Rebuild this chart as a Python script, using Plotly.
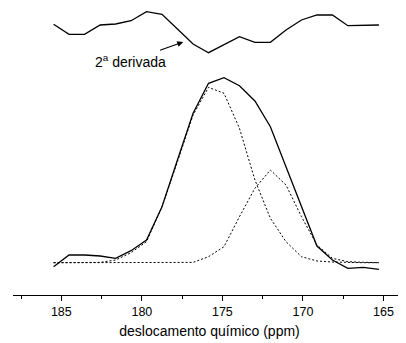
import plotly.graph_objects as go

# chemical shift (ppm) of the sampled points
ppm = [185.48, 184.52, 183.56, 182.59, 181.63, 180.67, 179.71, 178.75, 177.79, 176.82, 175.86,
       174.90, 173.94, 172.98, 172.02, 171.05, 170.09, 169.13, 168.17, 167.21, 166.25, 165.28]

# experimental spectrum (arbitrary intensity units)
spectrum = [-4, 7.7, 7.7, 6.7, 4.4, 12, 22.7, 56, 102.7, 149.4, 179.4,
            185, 177, 161.7, 136, 96, 56, 16.7, 2.7, -5.6, -4.6, -6.6]

# fitted component 1 (dotted)
comp1 = [0, 0, 0, 0.3, 2.7, 10, 21, 56, 101, 147.7, 175.4,
         169.4, 134.4, 82.7, 44.4, 21, 6, 1.7, 0.7, 0, 0, 0]

# fitted component 2 (dotted)
comp2 = [0, 0, 0, 0, 0, 0, 0, 0, 0, 0.3, 6,
         16, 46, 74.4, 92.7, 77.7, 46, 17.7, 4.4, 1, 0.4, 0]

# second derivative trace (offset, arbitrary units)
deriv2 = [238.4, 228.4, 228.4, 237.7, 238.7, 242, 251, 248.4, 233.7, 218.7, 210,
          218.4, 226, 220.4, 220.4, 232.7, 242.7, 247.7, 247.7, 237, 237.4, 237.7]

fig = go.Figure()
fig.add_trace(go.Scatter(x=ppm, y=comp1, mode="lines",
                         line=dict(color="black", width=1, dash="2px,2px")))
fig.add_trace(go.Scatter(x=ppm, y=comp2, mode="lines",
                         line=dict(color="black", width=1, dash="2px,2px")))
fig.add_trace(go.Scatter(x=ppm, y=spectrum, mode="lines",
                         line=dict(color="black", width=1.3)))
fig.add_trace(go.Scatter(x=ppm, y=deriv2, mode="lines",
                         line=dict(color="black", width=1.3)))

fig.add_annotation(x=177.43, y=220.7, text="2<sup>a</sup> derivada",
                   showarrow=True, ax=-53, ay=18.7,
                   arrowhead=2, arrowsize=1, arrowwidth=1.2, arrowcolor="black",
                   font=dict(family="Liberation Sans, Arial", size=14, color="black"))

# the page body has an 8px margin, so the figure is sized to the remaining area
fig.update_layout(
    width=398, height=335,
    margin=dict(l=5, r=0, t=0, b=48),
    paper_bgcolor="white", plot_bgcolor="white",
    showlegend=False,
    font=dict(family="Liberation Sans, Arial", color="black"),
    xaxis=dict(range=[188, 163.6], showgrid=False, zeroline=False, automargin=False,
               showline=True, linecolor="black", linewidth=1.2,
               ticks="outside", ticklen=5, tickwidth=1.2, tickcolor="black",
               tick0=165, dtick=5, tickfont=dict(size=12.5),
               minor=dict(ticks="outside", ticklen=3, tickwidth=1, tickcolor="black", dtick=2.5, tick0=165),
               title=dict(text="deslocamento químico (ppm)", font=dict(size=14), standoff=8)),
    yaxis=dict(range=[-32.3, 254.7], visible=False, automargin=False),
)

fig.write_html("out.html")
